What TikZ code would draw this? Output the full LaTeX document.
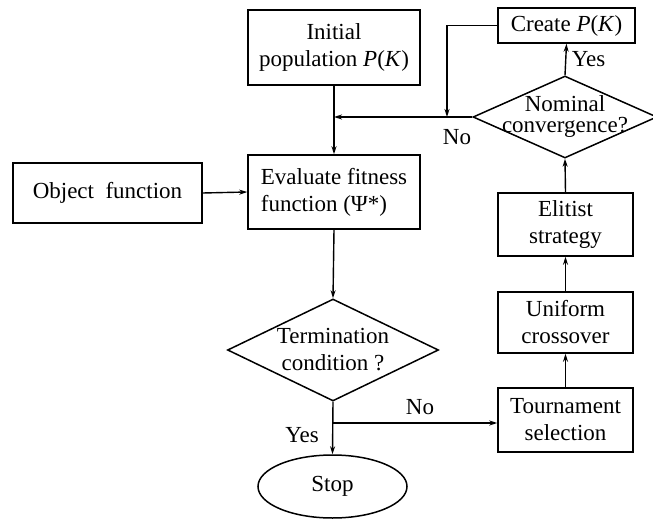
\documentclass[tikz,border=0pt]{standalone}
\usepackage{fontspec}
\setmainfont{Liberation Serif}
\usetikzlibrary{shapes.geometric,arrows.meta}
\begin{document}
\begin{tikzpicture}[x=1pt,y=-1pt,
  every node/.style={font=\fontsize{23}{27}\selectfont},
  box/.style={draw,line width=1.5pt,rectangle,inner sep=0pt},
  dia/.style={draw,line width=1.5pt,diamond,inner sep=0pt},
  txt/.style={align=center,font=\fontsize{23}{27}\selectfont},
  conn/.style={line width=1.4pt,-{Stealth[length=8pt,width=5pt]}},
  plain/.style={line width=1.4pt}]
\useasboundingbox (0,0) rectangle (653,521);
\node[box,minimum width=172,minimum height=75,align=center] (init) at (334,47.5) {Initial\\population \textit{P}(\textit{K})};
\node[box,minimum width=137,minimum height=35] (create) at (566.5,25.5) {Create \textit{P}(\textit{K})};
\node[dia,minimum width=184,minimum height=82,
  label={[txt,font=\fontsize{23}{21}\selectfont]center:Nominal\\convergence?}] (nom) at (565,117) {};
\node[box,minimum width=172,minimum height=74,align=left] (eval) at (334,192) {Evaluate fitness\\function (Ψ*)};
\node[box,minimum width=189,minimum height=60] (obj) at (107.5,193) {Object\ \ function};
\node[dia,minimum width=211,minimum height=102,
  label={[txt]center:Termination\\condition ?}] (term) at (333,350) {};
\node[box,minimum width=135,minimum height=63,align=center] (elit) at (565.5,224.5) {Elitist\\strategy};
\node[box,minimum width=135,minimum height=61,align=center] (unif) at (565.5,322.5) {Uniform\\crossover};
\node[box,minimum width=135,minimum height=64,align=center] (tour) at (565.5,420) {Tournament\\selection};
\node[draw,line width=1.5pt,ellipse,minimum width=149,minimum height=63,inner sep=0pt] (stop) at (332.5,486.5) {Stop};
\coordinate (j1) at (334,117);
\coordinate (c1) at (447,25.5);
\coordinate (c2) at (447,117);
\coordinate (j2) at (333,423);
% connectors
\draw[conn] (init.south) -- (eval.north);
\draw[conn] (nom.west) -- (j1);
\draw[plain] (create.west) -- (c1);
\draw[conn] (c1) -- (c2);
\draw[conn] (nom.north) -- node[right,xshift=2pt] {Yes} (create.south);
\draw[conn] (elit.north) -- (nom.south);
\draw[conn] (unif.north) -- (elit.south);
\draw[conn] (tour.north) -- (unif.south);
\draw[conn] (obj.east) -- (eval.west);
\draw[conn] (eval.south) -- (term.north);
\draw[conn] (term.south) -- (stop.north);
\draw[conn] (j2) -- (j2 -| tour.west);
\node (no1) at (457,137) {No};
\node (no2) at (420,407) {No};
\node (yes2) at (302,435) {Yes};
\end{tikzpicture}
\end{document}
